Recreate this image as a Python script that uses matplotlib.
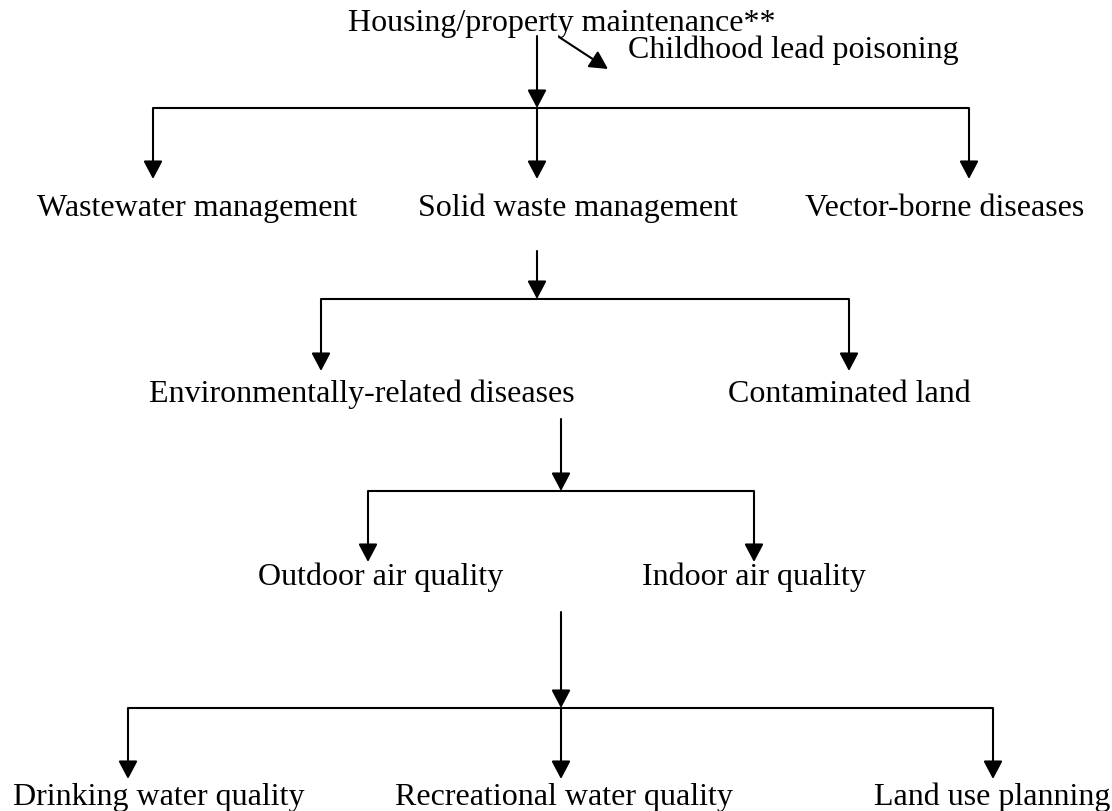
import matplotlib
matplotlib.use("Agg")
import matplotlib.pyplot as plt
from matplotlib.patches import FancyArrowPatch

# Texte des noeuds
top_label = "Housing/property maintenance**"
side_label = "Childhood lead poisoning"
level1 = ["Wastewater management", "Solid waste management", "Vector-borne diseases"]
level2 = ["Environmentally-related diseases", "Contaminated land"]
level3 = ["Outdoor air quality", "Indoor air quality"]
level4 = ["Drinking water quality", "Recreational water quality", "Land use planning"]

# Mise en page (pixels)
level1_x = [37, 418, 805]
level2_x = [575, 728]
level2_ha = ["right", "left"]
level3_x = [258, 642]
level4_x = [13, 395, 874]
baselines = [31, 216, 402, 585, 805]

# (x tige, y debut, y barre, x fleches, y pointe)
branches = [
    (537, 37, 109, [153, 537, 969], 180),
    (537, 252, 300, [321, 849], 372),
    (561, 420, 492, [368, 754], 563),
    (561, 613, 709, [128, 561, 993], 780),
]

W, H = 1112, 812
fig = plt.figure(figsize=(W / 100, H / 100), dpi=100)
ax = fig.add_axes([0, 0, 1, 1])
ax.set_xlim(0, W)
ax.set_ylim(H, 0)
ax.axis("off")

font = dict(family="Liberation Serif", fontsize=23, color="black", va="baseline")
lw = 1.5
style = "-|>,head_length=11,head_width=5.8"


def arrow(x0, y0, x1, y1):
    ax.add_patch(FancyArrowPatch((x0, y0), (x1, y1), arrowstyle=style,
                                 mutation_scale=1, lw=lw, color="black",
                                 shrinkA=0, shrinkB=0))


for xs, y0, yb, xa, yt in branches:
    arrow(xs, y0, xs, yb)
    ax.plot([min(xa), max(xa)], [yb, yb], color="black", lw=lw, solid_capstyle="butt")
    for x in xa:
        arrow(x, yb, x, yt)

# petite fleche vers "Childhood lead poisoning"
arrow(559, 38, 608, 70)

ax.text(348, baselines[0], top_label, ha="left", **font)
ax.text(628, 58, side_label, ha="left", **font)
for lab, x in zip(level1, level1_x):
    ax.text(x, baselines[1], lab, ha="left", **font)
for lab, x, ha in zip(level2, level2_x, level2_ha):
    ax.text(x, baselines[2], lab, ha=ha, **font)
for lab, x in zip(level3, level3_x):
    ax.text(x, baselines[3], lab, ha="left", **font)
for lab, x in zip(level4, level4_x):
    ax.text(x, baselines[4], lab, ha="left", **font)

fig.savefig("out.png", dpi=100)
